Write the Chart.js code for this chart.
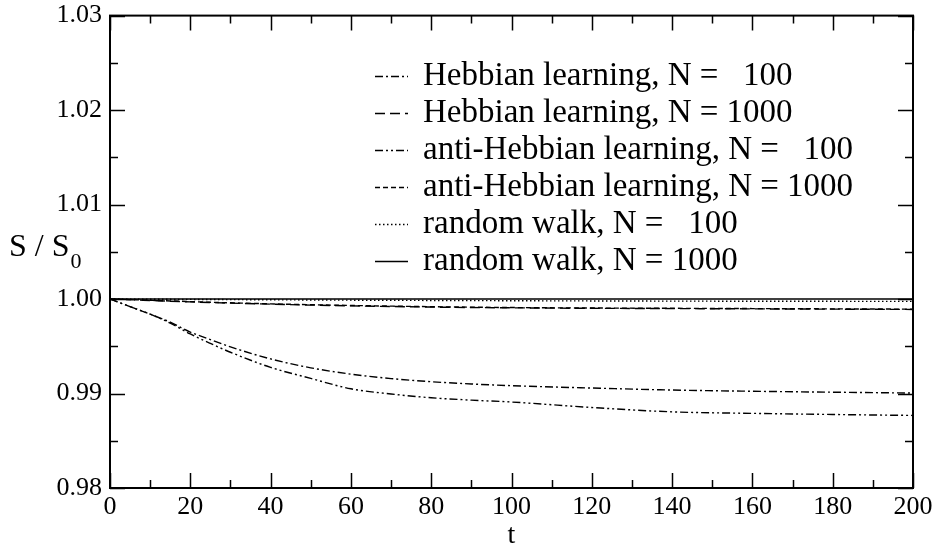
<!DOCTYPE html>
<html><head><meta charset="utf-8">
<script src="https://cdn.jsdelivr.net/npm/chart.js@4/dist/chart.umd.min.js"></script>
<style>html,body{margin:0;padding:0;background:#fff}#wrap{width:936px;height:547px}</style>
</head><body><div id="wrap"><canvas id="c" width="936" height="547"></canvas></div>
<script>
const tValues = [0,5,10,15,20,25,30,40,50,60,70,80,90,100,120,140,160,180,200];
const hebb100  = [1,0.9992,0.9984,0.99755,0.9965,0.99571,0.99494,0.99366,0.99272,0.99205,0.99158,0.99125,0.99101,0.99083,0.99058,0.99037,0.99024,0.99014,0.99005];
const hebb1000 = [1,0.99993,0.99985,0.99977,0.9997,0.99963,0.99957,0.99946,0.99936,0.99928,0.99921,0.99915,0.9991,0.99907,0.99902,0.99899,0.99896,0.99893,0.9989];
const anti100  = [1,0.9992,0.9984,0.99745,0.9963,0.9953,0.99437,0.99277,0.9916,0.9905,0.98995,0.98955,0.9893,0.9891,0.98852,0.98806,0.9879,0.98778,0.98768];
const anti1000 = [1,0.99994,0.99987,0.9998,0.99973,0.99966,0.9996,0.99949,0.9994,0.99932,0.99925,0.99919,0.99914,0.9991,0.99905,0.99902,0.99899,0.99896,0.99893];
const rw100    = [1,0.99999,0.99998,0.99997,0.99996,0.99995,0.99994,0.99992,0.9999,0.99988,0.99987,0.99985,0.99984,0.99982,0.9998,0.99978,0.99977,0.99976,0.99975];
const rw1000   = [1,1,1,1,1,1,1,1,1,1,1,1,1,1,1,1,1,1,1];
const seriesNames = ["Hebbian learning, N = ","Hebbian learning, N = ","anti-Hebbian learning, N = ","anti-Hebbian learning, N = ","random walk, N = ","random walk, N = "];
const seriesN = ["100","1000","100","1000","100","1000"];
const xTicks = [0,20,40,60,80,100,120,140,160,180,200];
const yTicks = [0.98,0.99,1.00,1.01,1.02,1.03];

const FONT = '"Liberation Serif", "Times New Roman", serif';
const dashes = [[8,3,2,3],[10,5],[8,3,2,3,2,3],[5,3],[1.5,2.5],[]];
const allSeries = [hebb100,hebb1000,anti100,anti1000,rw100,rw1000];

const datasets = allSeries.map((s,i)=>({
  label: seriesNames[i]+seriesN[i],
  data: tValues.map((t,k)=>({x:t,y:s[k]})),
  borderColor:'#000', borderWidth:1.4, borderDash:dashes[i],
  pointRadius:0, fill:false, cubicInterpolationMode:'monotone'
}));

const deco = {
  id:'deco',
  afterDraw(chart){
    const ctx = chart.ctx, a = chart.chartArea, xs = chart.scales.x, ys = chart.scales.y;
    ctx.save();
    ctx.strokeStyle='#000'; ctx.lineWidth=2; ctx.setLineDash([]);
    ctx.strokeRect(a.left, a.top, a.right-a.left, a.bottom-a.top);
    ctx.lineWidth=1.5;
    const MAJ=15, MIN=8;
    for(let v=0; v<=200; v+=10){
      const px = Math.round(xs.getPixelForValue(v))+0.5;
      const L = (v%20===0)?MAJ:MIN;
      ctx.beginPath(); ctx.moveTo(px,a.bottom); ctx.lineTo(px,a.bottom-L);
      ctx.moveTo(px,a.top); ctx.lineTo(px,a.top+L); ctx.stroke();
    }
    for(let k=0; k<=10; k++){
      const v = 0.98 + k*0.005;
      const py = Math.round(ys.getPixelForValue(v))+0.5;
      const L = (k%2===0)?MAJ:MIN;
      ctx.beginPath(); ctx.moveTo(a.left,py); ctx.lineTo(a.left+L,py);
      ctx.moveTo(a.right,py); ctx.lineTo(a.right-L,py); ctx.stroke();
    }
    // legend
    ctx.font = '33px '+FONT; ctx.fillStyle='#000'; ctx.textBaseline='middle';
    const lx0=375, lx1=408, tx=423, ty0=76, dy=37;
    for(let i=0;i<6;i++){
      const y = ty0 + i*dy;
      ctx.setLineDash(dashes[i]); ctx.lineWidth=1.4;
      ctx.beginPath(); ctx.moveTo(lx0,y+0.5); ctx.lineTo(lx1,y+0.5); ctx.stroke();
      ctx.setLineDash([]);
      ctx.textAlign='left';
      ctx.fillText(seriesNames[i], tx, y);
      const pre = ctx.measureText(seriesNames[i]).width;
      const end = tx + pre + ctx.measureText('1000').width;
      ctx.textAlign='right';
      ctx.fillText(seriesN[i], end, y);
    }
    // axis titles
    ctx.textAlign='center'; ctx.textBaseline='alphabetic';
    ctx.font='28px '+FONT;
    ctx.fillText('t', (a.left+a.right)/2, 543);
    ctx.textAlign='left';
    ctx.font='32px '+FONT;
    ctx.fillText('S / S', 9, 256);
    const w = ctx.measureText('S / S').width;
    ctx.font='22px '+FONT;
    ctx.fillText('0', 9+w+1, 268);
    ctx.restore();
  }
};

new Chart(document.getElementById('c'), {
  type:'line',
  data:{datasets},
  options:{
    responsive:false, animation:false, devicePixelRatio:1,
    layout:{padding:{top:13,right:23,left:0,bottom:0}},
    plugins:{legend:{display:false}, tooltip:{enabled:false}},
    scales:{
      x:{type:'linear', min:0, max:200,
        afterFit(s){ s.height = 59; },
        afterBuildTicks(s){ s.ticks = xTicks.map(v=>({value:v})); },
        grid:{display:false}, border:{display:false},
        ticks:{color:'#000', font:{family:FONT,size:26}, padding:-4, maxRotation:0, autoSkip:false,
          callback:v=>String(v)}},
      y:{type:'linear', min:0.98, max:1.03,
        afterFit(s){ s.width = 110; },
        afterBuildTicks(s){ s.ticks = yTicks.map(v=>({value:v})); },
        grid:{display:false}, border:{display:false},
        ticks:{color:'#000', font:{family:FONT,size:26}, padding:0, autoSkip:false,
          callback:v=>Number(v).toFixed(2)}}
    }
  },
  plugins:[deco]
});
</script></body></html>
